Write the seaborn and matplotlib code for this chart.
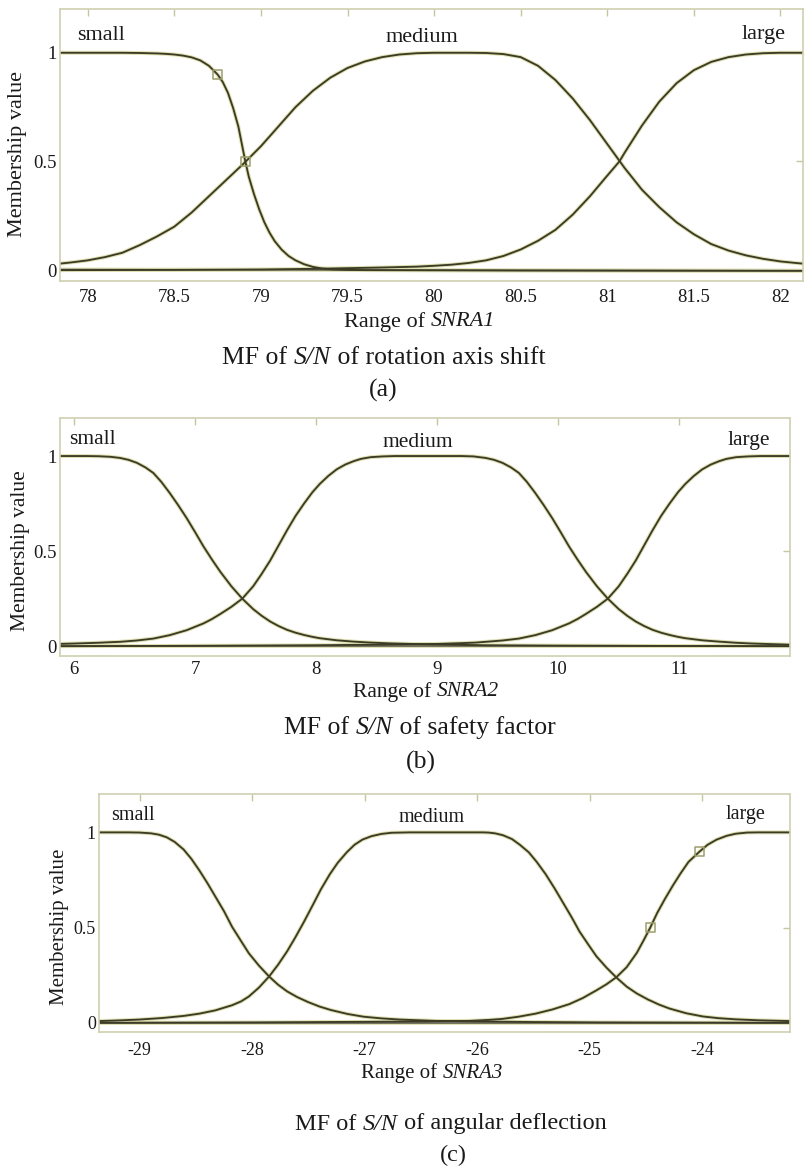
import matplotlib
matplotlib.use("Agg")
import matplotlib.pyplot as plt
import seaborn as sns

W, H = 806, 1169

sns.set_theme(style="white")
plt.rcParams["font.family"] = ["Liberation Serif", "DejaVu Serif"]

# ---------------- data ----------------
categories = ["small", "medium", "large"]

# panel (a)  SNRA1
a_small_x = [77.84, 78.0, 78.2, 78.3, 78.4, 78.45, 78.5, 78.55, 78.6, 78.65, 78.7, 78.75, 78.78,
             78.81, 78.84, 78.87, 78.9, 78.91, 78.93, 78.96, 78.99, 79.02, 79.05, 79.08, 79.12,
             79.16, 79.2, 79.25, 79.3, 79.35, 79.4, 79.5, 79.6, 80.5, 82.13]
a_small_y = [1.0, 1.0, 1.0, 0.999, 0.997, 0.995, 0.992, 0.987, 0.979, 0.965, 0.940, 0.900, 0.865,
             0.815, 0.745, 0.66, 0.54, 0.50, 0.43, 0.35, 0.28, 0.22, 0.172, 0.133, 0.094,
             0.065, 0.045, 0.027, 0.015, 0.008, 0.004, 0.001, 0.0, -0.002, -0.003]
a_med_x = [77.84, 77.9, 78.0, 78.1, 78.2, 78.3, 78.4, 78.5, 78.6, 78.7, 78.8, 78.9, 79.0,
           79.1, 79.2, 79.3, 79.4, 79.5, 79.6, 79.7, 79.8, 79.9, 80.0, 80.1, 80.2, 80.3,
           80.4, 80.5, 80.6, 80.7, 80.8, 80.9, 81.0, 81.1, 81.2, 81.3, 81.4, 81.5, 81.6,
           81.7, 81.8, 81.9, 82.0, 82.1, 82.13]
a_med_y = [0.030, 0.035, 0.045, 0.060, 0.080, 0.115, 0.155, 0.200, 0.265, 0.340, 0.415, 0.490, 0.570,
           0.660, 0.750, 0.825, 0.885, 0.930, 0.960, 0.980, 0.992, 0.998, 1.0, 1.0, 1.0, 0.999,
           0.994, 0.980, 0.940, 0.875, 0.790, 0.690, 0.580, 0.470, 0.370, 0.290, 0.220, 0.165, 0.120,
           0.090, 0.068, 0.052, 0.040, 0.032, 0.030]
a_large_x = [77.84, 78.5, 79.0, 79.3, 79.5, 79.7, 79.9, 80.0, 80.1, 80.2, 80.3, 80.4, 80.5, 80.6,
             80.7, 80.8, 80.9, 81.0, 81.07, 81.1, 81.2, 81.3, 81.4, 81.5, 81.6, 81.7, 81.8,
             81.9, 82.0, 82.13]
a_large_y = [0.0, 0.001, 0.003, 0.006, 0.009, 0.012, 0.016, 0.020, 0.025, 0.033, 0.045, 0.065, 0.095, 0.135,
             0.185, 0.255, 0.340, 0.435, 0.50, 0.54, 0.665, 0.775, 0.860, 0.920, 0.958, 0.980, 0.992,
             0.998, 1.0, 1.0]
a_base_x = [77.84, 82.13]
a_base_y = [0.003, -0.003]
a_mark_x = [78.75, 78.91]
a_mark_y = [0.9, 0.5]
a_xticks = [78, 78.5, 79, 79.5, 80, 80.5, 81, 81.5, 82]
a_xticklabels = ["78", "78.5", "79", "79.5", "80", "80.5", "81", "81.5", "82"]

# panel (b)  SNRA2
b_small_x = [5.884, 6.1, 6.2, 6.3, 6.38, 6.45, 6.52, 6.59, 6.655, 6.72, 6.79, 6.86, 6.93, 7.0,
             7.07, 7.14, 7.21, 7.30, 7.39, 7.48, 7.55, 7.62, 7.69, 7.76, 7.83, 7.90, 7.97, 8.03,
             8.17, 8.31, 8.45, 8.6, 8.9, 9.4, 10.0, 11.0, 11.915]
b_small_y = [1.0, 1.0, 0.999, 0.996, 0.99, 0.98, 0.964, 0.94, 0.911, 0.865, 0.806, 0.742, 0.674, 0.60,
             0.524, 0.455, 0.39, 0.315, 0.25, 0.195, 0.16, 0.13, 0.106, 0.086, 0.071, 0.059, 0.049, 0.042,
             0.031, 0.024, 0.019, 0.015, 0.01, 0.005, 0.003, 0.001, 0.0]
b_med_x = [5.884, 6.0, 6.1, 6.2, 6.3, 6.38, 6.52, 6.655, 6.79, 6.93, 7.07, 7.14, 7.21, 7.30,
           7.39, 7.48, 7.55, 7.62, 7.69, 7.76, 7.83, 7.90, 7.97, 8.03, 8.10, 8.17, 8.24, 8.31,
           8.37, 8.45, 8.55, 8.65, 9.2, 9.3, 9.40, 9.47, 9.54, 9.61, 9.675, 9.74, 9.81, 9.88,
           9.95, 10.02, 10.09, 10.16, 10.23, 10.32, 10.41, 10.50, 10.57, 10.64, 10.71, 10.78,
           10.85, 10.92, 10.99, 11.05, 11.19, 11.33, 11.47, 11.6, 11.75, 11.915]
b_med_y = [0.012, 0.014, 0.016, 0.018, 0.021, 0.023, 0.03, 0.04, 0.058, 0.084, 0.12, 0.143, 0.17, 0.207,
           0.25, 0.315, 0.38, 0.45, 0.53, 0.61, 0.685, 0.75, 0.81, 0.853, 0.895, 0.93, 0.955, 0.973,
           0.985, 0.994, 0.998, 1.0, 1.0, 0.998, 0.99, 0.98, 0.964, 0.94, 0.911, 0.865, 0.806, 0.742,
           0.674, 0.60, 0.524, 0.455, 0.39, 0.315, 0.25, 0.195, 0.16, 0.13, 0.106, 0.086,
           0.071, 0.059, 0.049, 0.042, 0.031, 0.024, 0.018, 0.014, 0.011, 0.008]
b_large_x = [5.884, 7.0, 8.0, 8.5, 9.0, 9.2, 9.32, 9.40, 9.54, 9.675, 9.81, 9.95, 10.09, 10.16,
             10.23, 10.32, 10.41, 10.50, 10.57, 10.64, 10.71, 10.78, 10.85, 10.92, 10.99, 11.05,
             11.12, 11.19, 11.26, 11.33, 11.39, 11.47, 11.57, 11.67, 11.915]
b_large_y = [0.0, 0.002, 0.005, 0.008, 0.012, 0.016, 0.019, 0.023, 0.03, 0.04, 0.058, 0.084, 0.12, 0.143,
             0.17, 0.207, 0.25, 0.315, 0.38, 0.45, 0.53, 0.61, 0.685, 0.75, 0.81, 0.853,
             0.895, 0.93, 0.955, 0.973, 0.985, 0.994, 0.998, 1.0, 1.0]
b_base_x = [5.884, 11.915]
b_base_y = [0.0, 0.0]
b_mark_x = []
b_mark_y = []
b_xticks = [6, 7, 8, 9, 10, 11]
b_xticklabels = ["6", "7", "8", "9", "10", "11"]

# panel (c)  SNRA3
c_small_x = [-29.36, -29.1, -29.0, -28.9, -28.83, -28.76, -28.69, -28.61, -28.54, -28.47, -28.40,
             -28.33, -28.25, -28.18, -28.10, -28.03, -27.94, -27.85, -27.77, -27.69, -27.60, -27.50,
             -27.40, -27.30, -27.15, -27.01, -26.85, -26.69, -26.37, -26.0, -25.5, -24.89, -24.0, -23.22]
c_small_y = [1.0, 1.0, 0.999, 0.995, 0.988, 0.974, 0.95, 0.91, 0.86, 0.80, 0.735,
             0.665, 0.585, 0.505, 0.43, 0.365, 0.30, 0.243, 0.20, 0.165, 0.135, 0.108,
             0.085, 0.067, 0.046, 0.032, 0.023, 0.017, 0.01, 0.007, 0.004, 0.002, 0.001, 0.0]
c_med_x = [-29.36, -29.2, -29.0, -28.8, -28.61, -28.47, -28.33, -28.18, -28.10, -28.03, -27.94,
           -27.85, -27.77, -27.69, -27.62, -27.54, -27.46, -27.39, -27.31, -27.24, -27.16, -27.09,
           -27.02, -26.94, -26.85, -26.76, -26.6, -25.95, -25.90, -25.84, -25.77, -25.69, -25.62,
           -25.54, -25.47, -25.39, -25.31, -25.24, -25.16, -25.09, -25.01, -24.94, -24.85, -24.76,
           -24.67, -24.58, -24.48, -24.38, -24.29, -24.14, -23.99, -23.85, -23.70, -23.5, -23.22]
c_med_y = [0.009, 0.012, 0.017, 0.025, 0.036, 0.048, 0.065, 0.092, 0.112, 0.138, 0.185,
           0.243, 0.305, 0.375, 0.445, 0.53, 0.62, 0.70, 0.78, 0.84, 0.895, 0.935,
           0.962, 0.98, 0.992, 0.998, 1.0, 1.0, 0.999, 0.995, 0.985, 0.965, 0.935,
           0.895, 0.845, 0.78, 0.705, 0.635, 0.555, 0.48, 0.41, 0.35, 0.29, 0.237,
           0.19, 0.154, 0.122, 0.095, 0.075, 0.05, 0.033, 0.024, 0.018, 0.013, 0.009]
c_large_x = [-29.36, -28.0, -27.0, -26.5, -26.07, -25.9, -25.78, -25.63, -25.48, -25.33, -25.18,
             -25.06, -24.94, -24.85, -24.76, -24.67, -24.58, -24.52, -24.46, -24.40, -24.33, -24.26,
             -24.19, -24.12, -24.06, -24.02, -23.95, -23.87, -23.78, -23.70, -23.60, -23.5, -23.22]
c_large_y = [0.0, 0.002, 0.005, 0.007, 0.01, 0.015, 0.02, 0.032, 0.048, 0.07, 0.098,
             0.13, 0.17, 0.202, 0.24, 0.292, 0.367, 0.432, 0.50, 0.575, 0.65, 0.72,
             0.785, 0.845, 0.878, 0.90, 0.935, 0.962, 0.982, 0.993, 0.999, 1.0, 1.0]
c_base_x = [-29.36, -23.22]
c_base_y = [0.0, 0.0]
c_mark_x = [-24.46, -24.02]
c_mark_y = [0.5, 0.9]
c_xticks = [-29, -28, -27, -26, -25, -24]
c_xticklabels = ["-29", "-28", "-27", "-26", "-25", "-24"]

yticks = [0, 0.5, 1]
yticklabels = ["0", "0.5", "1"]

ylabel_text = "Membership value"
xlabels = [[("Range of ", "normal"), ("SNRA1", "italic")],
           [("Range of ", "normal"), ("SNRA2", "italic")],
           [("Range of ", "normal"), ("SNRA3", "italic")]]
titles = [[("MF of ", "normal"), ("S/N", "italic"), (" of rotation axis shift", "normal")],
          [("MF of ", "normal"), ("S/N", "italic"), (" of safety factor", "normal")],
          [("MF of ", "normal"), ("S/N", "italic"), (" of angular deflection", "normal")]]
panel_tags = ["(a)", "(b)", "(c)"]

# ---------------- style / layout (pixels) ----------------
LINE = "#3c3c26"
HALO = "#e0e0b4"
SPINE = "#cfcfb2"
TICKC = "#c6c6a0"
MARKC = "#9c9c6c"
TEXTC = "#1a1a1a"

panels = [
    dict(box=(60, 9.3, 803, 281), xlim=(77.84, 82.13),
         curves=[(a_small_x, a_small_y), (a_med_x, a_med_y), (a_large_x, a_large_y)],
         base=(a_base_x, a_base_y), marks=(a_mark_x, a_mark_y),
         xticks=a_xticks, xtl=a_xticklabels, tick_fs=13.5, xpad=6,
         ylab=(18, 154), xlab=(420, 322), title=(384, 358), tag=(383, 390),
         cat=[(101, 36), (422, 38), (764, 35)], cat_fs=16, lab_fs=16, title_fs=18.5),
    dict(box=(60, 418, 790, 655.7), xlim=(5.884, 11.915),
         curves=[(b_small_x, b_small_y), (b_med_x, b_med_y), (b_large_x, b_large_y)],
         base=(b_base_x, b_base_y), marks=(b_mark_x, b_mark_y),
         xticks=b_xticks, xtl=b_xticklabels, tick_fs=13.5, xpad=4,
         ylab=(21, 551), xlab=(426, 692), title=(420, 728), tag=(421, 762),
         cat=[(92, 440), (418, 442), (749, 440)], cat_fs=15.5, lab_fs=15.5, title_fs=18.5),
    dict(box=(99.3, 794.3, 789.7, 1032.3), xlim=(-29.36, -23.22),
         curves=[(c_small_x, c_small_y), (c_med_x, c_med_y), (c_large_x, c_large_y)],
         base=(c_base_x, c_base_y), marks=(c_mark_x, c_mark_y),
         xticks=c_xticks, xtl=c_xticklabels, tick_fs=13, xpad=7,
         ylab=(60, 927), xlab=(432, 1073), title=(451, 1124), tag=(453, 1155),
         cat=[(133, 816), (432, 818), (746, 815)], cat_fs=14.5, lab_fs=15, title_fs=17.5),
]

fig = plt.figure(figsize=(W / 100, H / 100), dpi=100)
fig.patch.set_facecolor("white")
renderer = fig.canvas.get_renderer()


def fx(px):
    return px / W


def fy(py):
    return 1 - py / H


def mixed_text(segments, cx, cy, fs):
    """Draw a run of normal/italic segments centred at pixel (cx, cy)."""
    arts = []
    for s, st in segments:
        t = fig.text(0, fy(cy), s, fontsize=fs, fontstyle=st, ha="left", va="center", color=TEXTC)
        arts.append(t)
    widths = [a.get_window_extent(renderer=renderer).width for a in arts]
    x = cx - sum(widths) / 2
    for a, w in zip(arts, widths):
        a.set_x(fx(x))
        x += w


for i, p in enumerate(panels):
    l, t, r, b = p["box"]
    ax = fig.add_axes([l / W, 1 - b / H, (r - l) / W, (b - t) / H])
    ax.set_facecolor("white")

    bx, by = p["base"]
    sns.lineplot(x=bx, y=by, ax=ax, color=HALO, linewidth=2.8, estimator=None, sort=False)
    for cx, cy in p["curves"]:
        sns.lineplot(x=cx, y=cy, ax=ax, color=HALO, linewidth=2.8, estimator=None, sort=False)
    sns.lineplot(x=bx, y=by, ax=ax, color="#55554a", linewidth=1.1, estimator=None, sort=False)
    for cx, cy in p["curves"]:
        sns.lineplot(x=cx, y=cy, ax=ax, color=LINE, linewidth=1.35, estimator=None, sort=False)
    for ln in ax.get_lines():
        ln.set_solid_joinstyle("round")
        ln.set_solid_capstyle("round")

    mx, my = p["marks"]
    if len(mx):
        sns.scatterplot(x=mx, y=my, ax=ax, marker="s", s=42, facecolor="none",
                        edgecolor=MARKC, linewidth=1.1, zorder=5)

    ax.set_xlim(*p["xlim"])
    ax.set_ylim(-0.05, 1.2)
    ax.set_xticks(p["xticks"])
    ax.set_xticklabels(p["xtl"])
    ax.set_yticks(yticks)
    ax.set_yticklabels(yticklabels)
    ax.set_xlabel("")
    ax.set_ylabel("")
    ax.tick_params(axis="both", direction="in", top=True, right=True, length=5, width=1,
                   color=TICKC, labelcolor=TEXTC, labelsize=p["tick_fs"])
    ax.tick_params(axis="x", pad=p["xpad"])
    ax.tick_params(axis="y", pad=2.5)
    for s in ax.spines.values():
        s.set_color(SPINE)
        s.set_linewidth(1.2)
        s.set_visible(True)

    fig.text(fx(p["ylab"][0]), fy(p["ylab"][1]), ylabel_text, rotation=90,
             ha="center", va="center", fontsize=p["lab_fs"], color=TEXTC)
    mixed_text(xlabels[i], p["xlab"][0], p["xlab"][1], p["lab_fs"])
    mixed_text(titles[i], p["title"][0], p["title"][1], p["title_fs"])
    fig.text(fx(p["tag"][0]), fy(p["tag"][1]), panel_tags[i],
             ha="center", va="center", fontsize=p["title_fs"], color=TEXTC)
    for name, (cxp, cyp) in zip(categories, p["cat"]):
        fig.text(fx(cxp), fy(cyp), name, ha="center", va="center",
                 fontsize=p["cat_fs"], color=TEXTC)

fig.savefig("out.png", dpi=100, facecolor="white")
